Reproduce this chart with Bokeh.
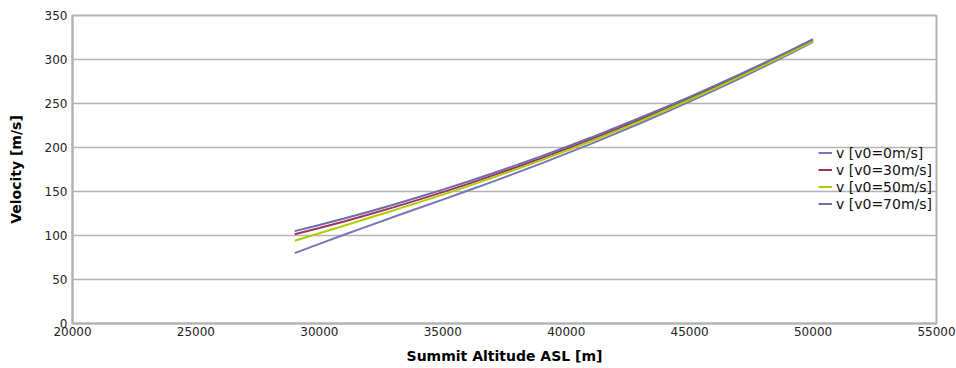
from bokeh.plotting import figure
from bokeh.models import Range1d, FixedTicker, Legend, LegendItem
from bokeh.embed import file_html
from bokeh.resources import INLINE

altitude = [29000, 30000, 31000, 32000, 33000, 34000, 35000, 36000, 37000, 38000, 39000,
            40000, 41000, 42000, 43000, 44000, 45000, 46000, 47000, 48000, 49000, 50000]

v_0 = [80.0, 90.5, 100.8, 111.0, 121.0, 130.9, 140.8, 150.8, 161.0, 171.4, 182.0,
       193.0, 204.2, 215.8, 227.6, 239.7, 252.2, 265.0, 278.1, 291.6, 305.6, 320.0]
v_30 = [101.5, 108.6, 116.0, 123.9, 132.0, 140.5, 149.3, 158.4, 168.0, 177.8, 187.9,
        198.4, 209.2, 220.5, 232.0, 243.8, 256.0, 268.5, 281.3, 294.6, 308.1, 322.0]
v_50 = [94.0, 102.5, 111.1, 119.8, 128.5, 137.4, 146.5, 155.8, 165.5, 175.4, 185.6,
        196.2, 207.1, 218.4, 230.0, 242.0, 254.3, 267.0, 279.9, 293.3, 306.9, 321.0]
v_70 = [105.0, 112.0, 119.3, 127.0, 135.0, 143.4, 152.1, 161.1, 170.5, 180.2, 190.2,
        200.6, 211.3, 222.4, 233.8, 245.5, 257.6, 270.0, 282.7, 295.8, 309.2, 323.0]

series_names = ["v [v0=0m/s]", "v [v0=30m/s]", "v [v0=50m/s]", "v [v0=70m/s]"]
series_colors = ["#7676b4", "#a3305f", "#a8d000", "#6c6caa"]

x_ticks = [20000, 25000, 30000, 35000, 40000, 45000, 50000, 55000]
y_ticks = [0, 50, 100, 150, 200, 250, 300, 350]

p = figure(width=956, height=368, output_backend="svg", toolbar_location=None, tools="",
           x_range=Range1d(20000, 55000), y_range=Range1d(0, 350),
           min_border_left=72, min_border_right=20, min_border_top=15, min_border_bottom=45)

p.background_fill_color = "white"
p.border_fill_color = "white"
p.outline_line_color = "#b3b3b3"
p.outline_line_width = 2

p.xgrid.visible = False
p.ygrid.grid_line_color = "#b3b3b3"
p.ygrid.grid_line_width = 1.5
p.ygrid.ticker = FixedTicker(ticks=y_ticks)

p.xaxis.ticker = FixedTicker(ticks=x_ticks)
p.yaxis.ticker = FixedTicker(ticks=y_ticks)

for ax in (p.xaxis, p.yaxis):
    ax.axis_line_color = "#b3b3b3"
    ax.axis_line_width = 2
    ax.major_tick_line_color = None
    ax.minor_tick_line_color = None
    ax.major_tick_out = 0
    ax.major_tick_in = 0
    ax.major_label_text_font = "DejaVu Sans"
    ax.major_label_text_font_size = "12px"
    ax.major_label_text_color = "#222222"
    ax.axis_label_text_font = "DejaVu Sans"
    ax.axis_label_text_font_size = "14px"
    ax.axis_label_text_font_style = "bold"
    ax.axis_label_text_color = "#000000"

p.xaxis.axis_label = "Summit Altitude ASL [m]"
p.yaxis.axis_label = "Velocity [m/s]"
p.xaxis.major_label_standoff = 3
p.xaxis.axis_label_standoff = 9
p.yaxis.major_label_standoff = 5
p.yaxis.axis_label_standoff = 18

renderers = []
for vals, color in zip([v_0, v_30, v_50, v_70], series_colors):
    r = p.line(altitude, vals, line_color=color, line_width=2)
    renderers.append(r)

legend = Legend(items=[LegendItem(label=n, renderers=[r]) for n, r in zip(series_names, renderers)],
                location=(746, 111))
legend.border_line_color = None
legend.background_fill_alpha = 0
legend.padding = 0
legend.margin = 0
legend.spacing = 0
legend.label_height = 17
legend.glyph_height = 17
legend.glyph_width = 14
legend.label_standoff = 4
legend.label_text_font = "DejaVu Sans"
legend.label_text_font_size = "14px"
legend.label_text_color = "#111111"
p.add_layout(legend, "center")

open("out.html", "w").write(file_html(p, INLINE))
